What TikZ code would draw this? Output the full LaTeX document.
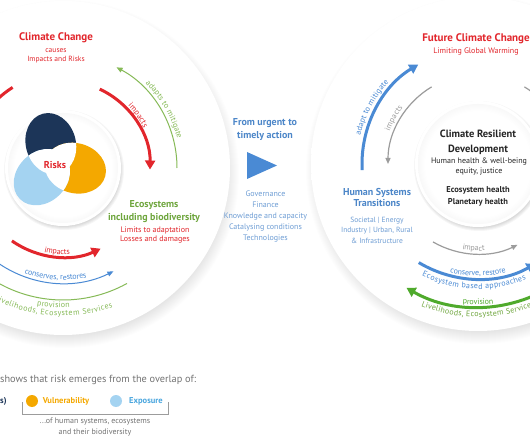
\documentclass[tikz,border=0pt]{standalone}
\usepackage{fontspec}
\setmainfont{PT Sans}
\usetikzlibrary{arrows.meta,decorations.text}
\definecolor{ipccred}{HTML}{E2262C}
\definecolor{ecogreen}{HTML}{6FA63E}
\definecolor{thingreen}{HTML}{86BA57}
\definecolor{arcgreen}{HTML}{4FAA2C}
\definecolor{ipccblue}{HTML}{4A8AD4}
\definecolor{textblue}{HTML}{4C86C8}
\definecolor{listblue}{HTML}{6E9DD4}
\definecolor{arcgrey}{HTML}{9C9C9C}
\definecolor{riskNavy}{HTML}{1C3558}
\definecolor{riskOrange}{HTML}{F4A800}
\definecolor{riskSky}{HTML}{A4D3F1}
\definecolor{expoblue}{HTML}{4AA6DE}
\definecolor{legendgrey}{HTML}{727272}
\pgfdeclareradialshading{discshade}{\pgfpoint{0bp}{0bp}}{color(0bp)=(white); color(34bp)=(white); color(50bp)=(black!9)}
\pgfdeclareradialshading{hubshade}{\pgfpoint{0bp}{0bp}}{color(0bp)=(white); color(22bp)=(white); color(50bp)=(black!24)}
\begin{document}
\begin{tikzpicture}[x=1pt, y=1pt,
  every node/.style={font=\fontsize{7.5}{9.5}\selectfont, align=center, inner sep=0pt},
  heading/.style={font=\bfseries\fontsize{10}{13}\selectfont},
  bigarc/.style={line width=3pt, -{Triangle[length=9pt, width=10pt]}},
  smallarc/.style={line width=1pt, -{Triangle[length=6pt, width=5pt]}},
  arctext/.style n args={3}{decorate, decoration={text along path, text align=center,
    text color=#2, raise=#3, text={|\fontsize{8}{9}\selectfont|#1}}}]
  \useasboundingbox (0,0) rectangle (530,442);
  \clip (0,0) rectangle (530,442);
  \coordinate (L) at (63,274);
  \coordinate (R) at (478,278);
  \coordinate (V) at (56,279);
  % the two discs
  \foreach \c in {L,R} {
    \begin{scope}[shift={(\c)}]
      \foreach \i in {0,...,14} \fill[black, opacity=0.008] (2,-6) circle ({160+\i});
      \shade[shading=discshade] (0,0) circle (167);
    \end{scope}
  }
  % hubs
  \foreach \i in {0,...,5} \fill[black, opacity=0.035] ([shift={(1,-2)}]L) circle ({55+\i});
  \fill[white] (L) circle (58);
  \shade[shading=hubshade] (L) circle (55);
  \foreach \i in {0,...,5} \fill[black, opacity=0.035] ([shift={(1,-2)}]R) circle ({60+\i});
  \fill[white] (R) circle (63);
  \shade[shading=hubshade] (R) circle (60);
  % risk propeller
  \foreach \ang/\col in {105/riskNavy,-15/riskOrange,225/riskSky}
    \fill[\col, shift={(V)}, rotate=\ang] (20,0) ellipse[x radius=31, y radius=25];
  \begin{scope}
    \clip[shift={(V)}, rotate=105] (20,0) ellipse[x radius=31, y radius=25];
    \fill[white, shift={(V)}, rotate=-15] (20,0) ellipse[x radius=31, y radius=25];
    \fill[white, shift={(V)}, rotate=225] (20,0) ellipse[x radius=31, y radius=25];
  \end{scope}
  \begin{scope}
    \clip[shift={(V)}, rotate=-15] (20,0) ellipse[x radius=31, y radius=25];
    \fill[white, shift={(V)}, rotate=225] (20,0) ellipse[x radius=31, y radius=25];
  \end{scope}
  \node[text=ipccred, font=\bfseries\fontsize{10}{12}\selectfont] (risks) at (55,277) {Risks};
  % left disc cycles
  \begin{scope}[shift={(L)}]
    \draw[bigarc, -, ipccred] (122:95) arc[start angle=122, end angle=145, radius=95];
    \draw[bigarc, ipccred] (65:87) arc[start angle=65, end angle=-1, radius=87];
    \path[arctext={impacts}{ipccred}{3pt}] (60:87) arc[start angle=60, end angle=10, radius=87];
    \draw[smallarc, thingreen] (0:114) arc[start angle=0, end angle=62, radius=114];
    \path[arctext={adapts to mitigate}{thingreen}{4pt}] (58:114) arc[start angle=58, end angle=2, radius=114];
    \draw[bigarc, ipccred] (235:89) arc[start angle=235, end angle=295, radius=89];
    \path[arctext={impacts}{ipccred}{2.5pt}] (236:89) arc[start angle=236, end angle=296, radius=89];
    \draw[smallarc, ipccblue] (215:115) arc[start angle=215, end angle=296, radius=115];
    \path[arctext={conserves, restores}{ipccblue}{3pt}] (226:115) arc[start angle=226, end angle=306, radius=115];
    \draw[line width=1pt, thingreen] (205:132) arc[start angle=205, end angle=299, radius=132];
    \path[arctext={provision}{thingreen}{-8pt}] (236:132) arc[start angle=236, end angle=296, radius=132];
    \path[arctext={Livelihoods, Ecosystem Services}{thingreen}{-16pt}] (231:132) arc[start angle=231, end angle=301, radius=132];
  \end{scope}
  % right disc cycles
  \begin{scope}[shift={(R)}]
    \draw[bigarc, ipccblue] (183:116) arc[start angle=183, end angle=121, radius=116];
    \path[arctext={adapt to mitigate}{ipccblue}{5pt}] (172:116) arc[start angle=172, end angle=132, radius=116];
    \draw[smallarc, line width=1.2pt, arcgrey] (121:90) arc[start angle=121, end angle=180, radius=90];
    \path[arctext={impacts}{arcgrey}{4pt}] (170:90) arc[start angle=170, end angle=133, radius=90];
    \draw[line width=1.2pt, arcgrey] (59:90) arc[start angle=59, end angle=35, radius=90];
    \draw[smallarc, line width=1.2pt, arcgrey] (240:90) arc[start angle=240, end angle=296, radius=90];
    \path[arctext={impact}{arcgrey}{3pt}] (237:90) arc[start angle=237, end angle=297, radius=90];
    \draw[bigarc, ipccblue] (239:115) arc[start angle=239, end angle=300, radius=115];
    \path[arctext={conserve, restore}{ipccblue}{3pt}] (240:115) arc[start angle=240, end angle=300, radius=115];
    \path[arctext={Ecosystem based approaches}{ipccblue}{-10pt}] (233:115) arc[start angle=233, end angle=303, radius=115];
    \draw[bigarc, arcgreen] (305:143) arc[start angle=305, end angle=240, radius=143];
    \path[arctext={provision}{arcgreen}{2.5pt}] (240:143) arc[start angle=240, end angle=300, radius=143];
    \path[arctext={Livelihoods, Ecosystem Services}{ecogreen}{-10pt}] (235:143) arc[start angle=235, end angle=305, radius=143];
  \end{scope}
  % left texts
  \node[text=ipccred, font=\bfseries\fontsize{11}{13}\selectfont] (cc) at (56,404) {Climate Change};
  \node[text=ipccred] (ccsub) at (56,386) {causes\\Impacts and Risks};
  \node[heading, text=ecogreen] (eco) at (154,230.5) {Ecosystems\\including biodiversity};
  \node[text=ipccred, font=\fontsize{8}{9.5}\selectfont] (limits) at (155,207) {Limits to adaptation\\Losses and damages};
  % middle
  \node[heading, text=textblue, font=\bfseries\fontsize{10}{13.5}\selectfont] (urgent) at (265,312.5) {From urgent to\\timely action};
  \fill[ipccblue] (247,290) coordinate (tA) -- (247,263) -- (277,276.5) -- cycle;
  \node[text=listblue, font=\fontsize{8}{11}\selectfont] (enablers) at (265.5,225)
    {Governance\\Finance\\Knowledge and capacity\\Catalysing conditions\\Technologies};
  % right texts
  \node[text=ipccred, font=\bfseries\fontsize{11}{13}\selectfont] (fcc) at (476,403) {Future Climate Change};
  \node[text=ipccred, font=\fontsize{8}{9.5}\selectfont] (fccsub) at (476,390) {Limiting Global Warming};
  \node[text=black!85, font=\bfseries\fontsize{10.5}{15}\selectfont] (crd) at (478,299.5) {Climate Resilient\\Development};
  \node[text=black!85, font=\fontsize{8}{9.5}\selectfont] (health) at (479,275.5) {Human health \& well-being\\equity, justice};
  \node[text=black!85, font=\bfseries\fontsize{8.5}{12}\selectfont] (planet) at (478,246) {Ecosystem health\\Planetary health};
  \node[heading, text=textblue, font=\bfseries\fontsize{10}{11.5}\selectfont] (hst) at (377,244.5) {Human Systems\\Transitions};
  \node[text=listblue, font=\fontsize{7.5}{10.5}\selectfont] (sectors) at (377,212)
    {Societal | Energy\\Industry | Urban, Rural\\\& Infrastructure};
  % legend
  \node[anchor=west, text=legendgrey, font=\fontsize{10.3}{12}\selectfont] (overlap) at (0,62) {shows that risk emerges from the overlap of:};
  \node[anchor=west, text=riskNavy, font=\bfseries\fontsize{8.5}{10}\selectfont] (haz) at (0,41) {s)};
  \fill[riskOrange] (32,41) circle (6);
  \node[text=riskOrange, font=\bfseries\fontsize{8.5}{10}\selectfont] (vul) at (66,41) {Vulnerability};
  \fill[riskSky] (116,41) circle (6);
  \node[text=expoblue, font=\bfseries\fontsize{8.5}{10}\selectfont] (expo) at (146,41) {Exposure};
  \draw[legendgrey!70, line width=0.6pt] (22,40) -- (22,28) -- (168,28) -- (168,40);
  \node[text=legendgrey, font=\fontsize{8}{11}\selectfont] (ofhuman) at (95,15.5) {...of human systems, ecosystems\\and their biodiversity};
\end{tikzpicture}
\end{document}
